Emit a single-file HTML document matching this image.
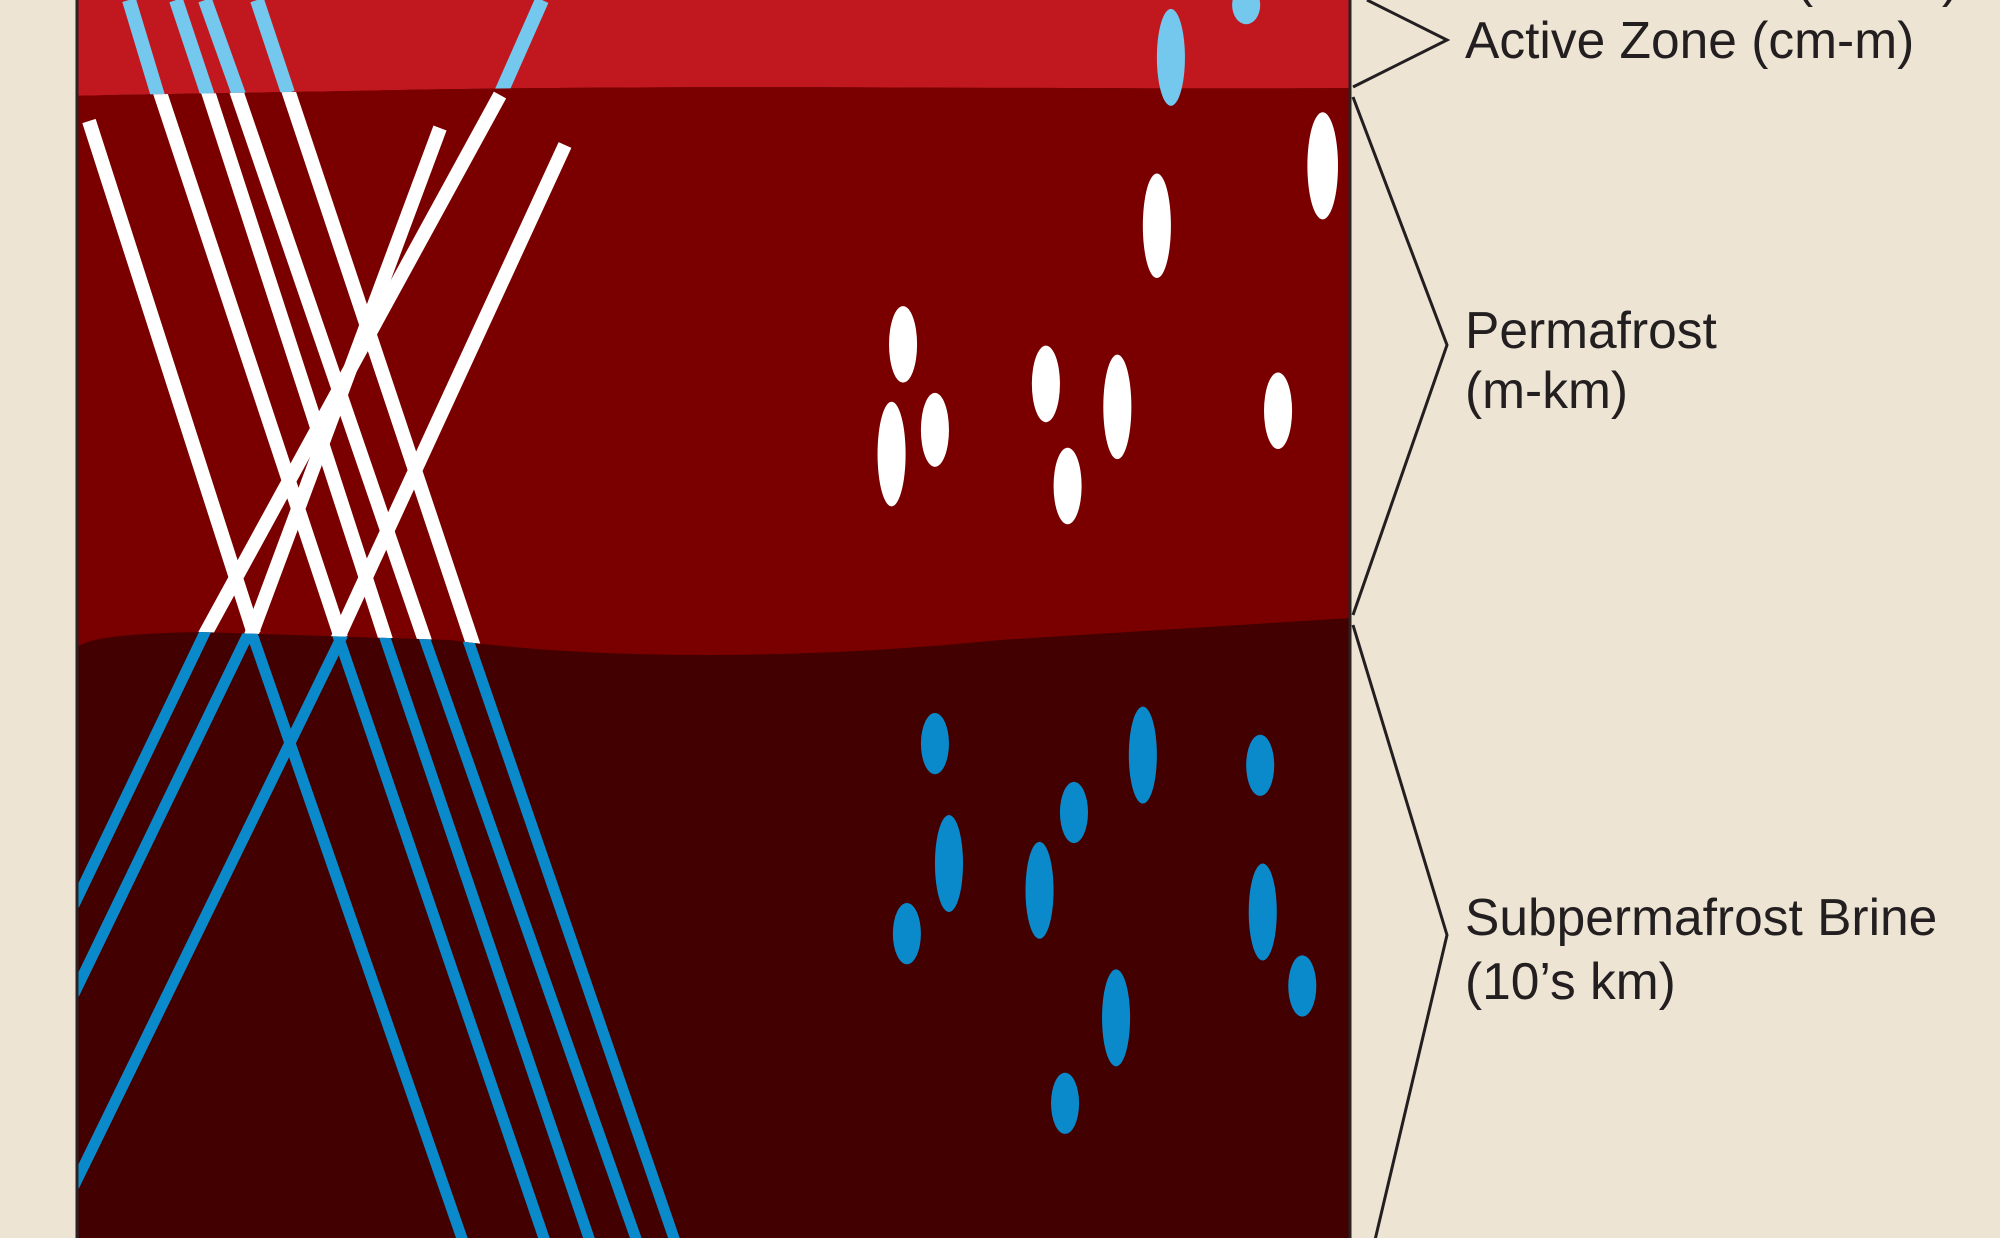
<!DOCTYPE html>
<html><head><meta charset="utf-8"><style>
html,body{margin:0;padding:0;background:#ede4d4;}
svg{display:block}
text{font-family:"Liberation Sans",sans-serif;font-size:51.5px;fill:#231f20}
</style></head><body>
<svg width="2000" height="1238" viewBox="0 0 2000 1238" xmlns="http://www.w3.org/2000/svg">
<defs>
<clipPath id="cA"><path d="M76,-10 L1350,-10 L1350,88 C1100,90 700,84 400,90 C250,93 150,94 76,96 Z"/></clipPath>
<clipPath id="cP"><path d="M76,96 C150,94 250,93 400,90 C700,84 1100,90 1350,88 L1350,618 L1000,640 C800,660 600,660 450,640 L200,632 Q80,634 76,650 Z"/></clipPath>
<clipPath id="cB"><path d="M76,650 Q80,634 200,632 L450,640 C600,660 800,660 1000,640 L1350,618 L1350,1250 L76,1250 Z"/></clipPath>
</defs>
<rect x="76" y="0" width="1274" height="1238" fill="#430000"/>
<g clip-path="url(#cA)"><rect x="76" y="-10" width="1274" height="120" fill="#c1171f"/></g>
<g clip-path="url(#cP)"><rect x="76" y="80" width="1274" height="600" fill="#7a0000"/></g>

<g clip-path="url(#cA)" stroke="#74c8ee" stroke-width="14" fill="none">
<line x1="129" y1="0" x2="158" y2="96"/>
<line x1="176" y1="0" x2="208" y2="96"/>
<line x1="205" y1="0" x2="239" y2="95"/>
<line x1="257" y1="0" x2="288" y2="93"/>
<line x1="542" y1="0" x2="500" y2="95"/>
</g>
<g clip-path="url(#cP)" stroke="#ffffff" stroke-width="14" fill="none">
<line x1="89" y1="121" x2="254" y2="634"/>
<line x1="126" y1="-10" x2="341" y2="638"/>
<line x1="175" y1="-10" x2="386" y2="640"/>
<line x1="205" y1="0" x2="426" y2="644"/>
<line x1="258" y1="0" x2="475" y2="650"/>
<line x1="500" y1="95" x2="203" y2="638"/>
<line x1="440" y1="128" x2="250" y2="638"/>
<line x1="565" y1="145" x2="337" y2="640"/>
</g>
<g clip-path="url(#cB)" stroke="#0a8acb" stroke-width="11" fill="none">
<line x1="207" y1="628" x2="74" y2="905"/>
<line x1="251" y1="628" x2="74" y2="994"/>
<line x1="345" y1="630" x2="74" y2="1186"/>
<line x1="250" y1="628" x2="466" y2="1250"/>
<line x1="336" y1="630" x2="548" y2="1250"/>
<line x1="383" y1="632" x2="593" y2="1250"/>
<line x1="423" y1="634" x2="640" y2="1250"/>
<line x1="468" y1="640" x2="678" y2="1250"/>
</g>

<g transform="scale(1.2755)">
<ellipse cx="918" cy="45" rx="11" ry="38" fill="#74c8ee"/>
<ellipse cx="977" cy="4" rx="11" ry="15" fill="#74c8ee"/>
<g fill="#ffffff">
<ellipse cx="1037" cy="130" rx="12" ry="42"/>
<ellipse cx="907" cy="177" rx="11" ry="41"/>
<ellipse cx="708" cy="270" rx="11" ry="30"/>
<ellipse cx="733" cy="337" rx="11" ry="29"/>
<ellipse cx="699" cy="356" rx="11" ry="41"/>
<ellipse cx="820" cy="301" rx="11" ry="30"/>
<ellipse cx="876" cy="319" rx="11" ry="41"/>
<ellipse cx="837" cy="381" rx="11" ry="30"/>
<ellipse cx="1002" cy="322" rx="11" ry="30"/>
</g>
<g fill="#0a8acb">
<ellipse cx="733" cy="583" rx="11" ry="24"/>
<ellipse cx="896" cy="592" rx="11" ry="38"/>
<ellipse cx="988" cy="600" rx="11" ry="24"/>
<ellipse cx="842" cy="637" rx="11" ry="24"/>
<ellipse cx="744" cy="677" rx="11" ry="38"/>
<ellipse cx="815" cy="698" rx="11" ry="38"/>
<ellipse cx="711" cy="732" rx="11" ry="24"/>
<ellipse cx="990" cy="715" rx="11" ry="38"/>
<ellipse cx="1021" cy="773" rx="11" ry="24"/>
<ellipse cx="875" cy="798" rx="11" ry="38"/>
<ellipse cx="835" cy="865" rx="11" ry="24"/>
</g>
</g>

<line x1="77" y1="0" x2="77" y2="1238" stroke="#2a2222" stroke-width="3"/>
<line x1="1350" y1="0" x2="1350" y2="1238" stroke="#2a2222" stroke-width="3"/>

<g stroke="#231f20" stroke-width="3" fill="none">
<polyline points="1367,0 1447,40 1353,87"/>
<polyline points="1353,97 1447,345 1353,615"/>
<polyline points="1353,625 1447,935 1375,1240"/>
</g>

<text x="1959" y="-4" text-anchor="end">Ice Shell (m-km)</text>
<text x="1465" y="58">Active Zone (cm-m)</text>
<text x="1465" y="348">Permafrost</text>
<text x="1465" y="408">(m-km)</text>
<text x="1465" y="935">Subpermafrost Brine</text>
<text x="1465" y="999">(10’s km)</text>
</svg>
</body></html>
